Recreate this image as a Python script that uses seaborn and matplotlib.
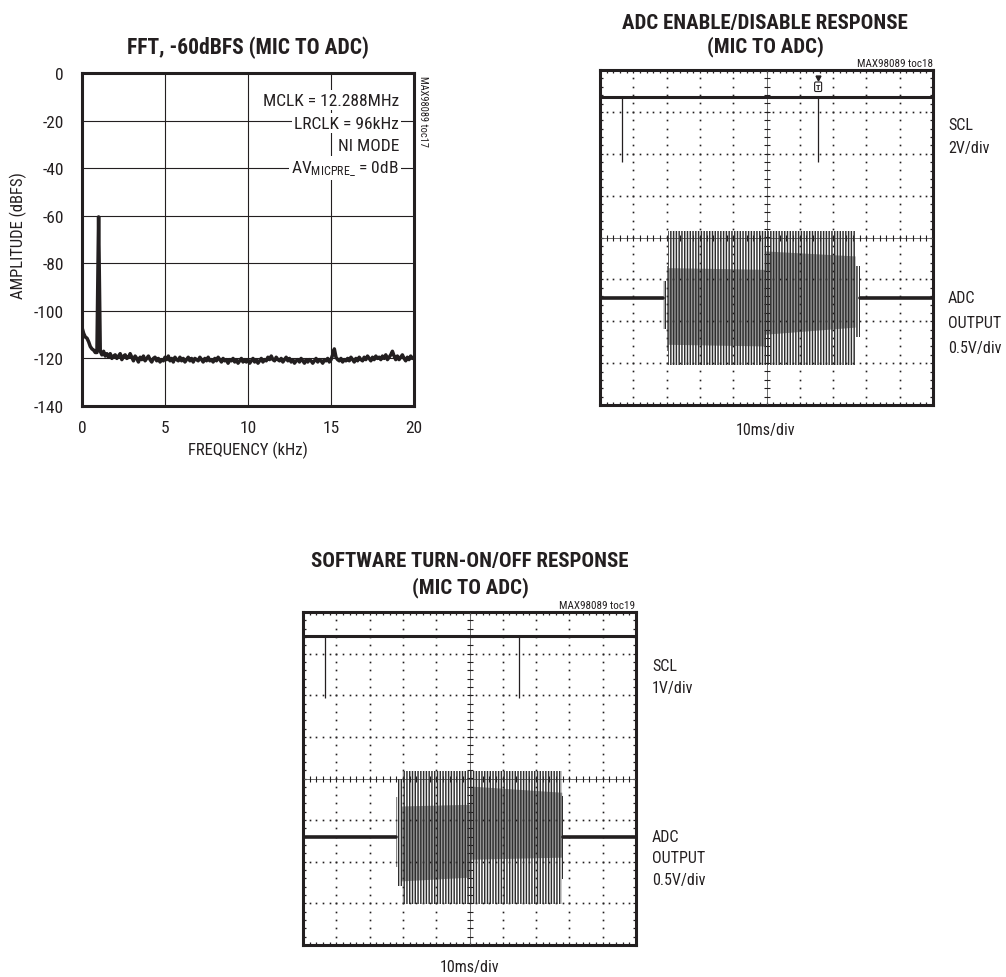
import numpy as np
import matplotlib
matplotlib.use("Agg")
import matplotlib.pyplot as plt
import seaborn as sns
from matplotlib import font_manager
from matplotlib.ticker import MultipleLocator

# ---------------- data ----------------
# FFT, -60dBFS (MIC TO ADC)
fft_freq_khz = np.round(np.arange(0, 20.001, 0.1), 1)
fft_amp_dbfs = [
    -107.0, -109.5, -111.0, -111.5, -113.0, -115.0, -116.0, -116.5, -117.5, -117.5,
    -60.5, -117.0, -118.5, -117.0, -119.0, -118.0, -119.5, -118.0, -120.0, -119.0,
    -118.5, -120.0, -119.0, -118.0, -120.5, -119.0, -118.5, -120.0, -119.5, -118.0,
    -119.5, -121.0, -119.0, -120.0, -121.5, -119.5, -120.5, -119.0, -121.0, -120.0,
    -119.0, -120.5, -121.5, -120.0, -119.5, -121.0, -120.0, -121.5, -120.5, -121.0,
    -119.5, -120.5, -119.0, -121.0, -120.0, -121.5, -119.5, -120.5, -121.0, -119.5,
    -121.0, -120.0, -121.5, -120.5, -119.5, -121.0, -120.0, -121.5, -120.0, -120.5,
    -121.0, -119.5, -120.5, -121.5, -120.0, -121.0, -119.5, -121.0, -120.5, -121.5,
    -120.0, -121.0, -119.5, -120.5, -121.5, -120.0, -121.0, -120.5, -122.0, -120.5,
    -121.0, -120.0, -121.5, -120.5, -122.0, -121.0, -120.0, -121.5, -120.5, -121.5,
    -120.5, -122.0, -121.0, -120.0, -121.5, -120.5, -122.0, -121.0, -120.0, -121.5,
    -120.5, -121.0, -119.5, -120.5, -119.0, -120.5, -121.0, -119.5, -120.5, -121.0,
    -120.0, -121.5, -120.5, -119.5, -121.0, -120.0, -121.5, -120.5, -122.0, -121.0,
    -120.5, -121.5, -120.0, -121.0, -122.0, -120.5, -121.5, -120.5, -121.0, -122.0,
    -121.0, -120.0, -121.5, -120.5, -121.0, -122.0, -120.5, -121.0, -120.0, -121.5,
    -120.5, -118.5, -116.0, -119.5, -120.5, -121.0, -120.0, -121.5, -120.5, -121.0,
    -120.0, -121.0, -119.5, -120.5, -121.5, -120.0, -121.0, -119.5, -120.5, -121.0,
    -119.5, -120.5, -119.0, -120.0, -121.0, -119.5, -120.5, -119.0, -120.0, -119.5,
    -120.5, -119.0, -120.0, -118.5, -120.5, -119.5, -118.5, -117.0, -119.0, -120.5,
    -119.0, -120.5, -119.5, -118.5, -120.0, -121.0, -119.5, -120.5, -119.0, -120.0,
    -119.5,
]
fft_xticks = [0, 5, 10, 15, 20]
fft_yticks = [0, -20, -40, -60, -80, -100, -120, -140]
fft_notes = ["MCLK = 12.288MHz", "LRCLK = 96kHz", "NI MODE",
             r"AV$_{\mathregular{MICPRE\_}}$ = 0dB"]

# ADC ENABLE/DISABLE RESPONSE (divisions; y measured from screen centre)
p2_scl_level = 3.36
p2_glitch_t = [0.66, 6.55]
p2_glitch_low = [1.81, 1.81]
p2_adc_base = -1.45
p2_env_t = [1.89, 1.97, 1.97, 2.04, 2.04, 7.66, 7.66, 7.80]
p2_env_hi = [0.40, 0.40, 0.76, 0.76, 1.60, 1.60, 0.76, 0.76]
p2_env_lo = [-0.74, -0.74, -1.26, -1.26, -1.60, -1.60, -0.93, -0.93]
p2_band_t = [2.04, 4.95, 4.95, 7.66]
p2_band_hi = [0.73, 0.69, 1.13, 1.01]
p2_band_lo = [-1.10, -1.14, -0.86, -0.69]

# SOFTWARE TURN-ON/OFF RESPONSE
p3_scl_level = 3.42
p3_glitch_t = [0.66, 6.49]
p3_glitch_low = [1.93, 1.93]
p3_adc_base = -1.41
p3_env_t = [2.79, 2.86, 2.86, 2.96, 2.96, 7.77, 7.77, 7.82]
p3_env_hi = [0.96, 0.96, 1.39, 1.39, 1.59, 1.59, 1.00, 1.00]
p3_env_lo = [-0.72, -0.72, -1.18, -1.18, -1.61, -1.61, -1.00, -1.00]
p3_band_t = [2.96, 5.0, 5.0, 7.77]
p3_band_hi = [0.75, 0.79, 1.23, 1.08]
p3_band_lo = [-1.05, -0.96, -0.53, -0.48]

# ---------------- style ----------------
sns.set_theme(style="white")
names = {f.name for f in font_manager.fontManager.ttflist}
if "Liberation Sans Narrow" in names:
    FONT = "Liberation Sans Narrow"
elif "Roboto Condensed" in names:
    FONT = "Roboto Condensed"
else:
    FONT = "Liberation Sans"
plt.rcParams["font.family"] = [FONT, "DejaVu Sans"]
plt.rcParams["mathtext.fontset"] = "custom"
plt.rcParams["mathtext.rm"] = FONT
plt.rcParams["mathtext.it"] = FONT
plt.rcParams["mathtext.bf"] = FONT + ":bold"
plt.rcParams["hatch.linewidth"] = 1.05
plt.rcParams["hatch.color"] = "#2e2e2e"

INK = "#231f20"
W, H = 1006, 978
fig = plt.figure(figsize=(W / 100, H / 100), dpi=100)


def fx(x):
    return x / W


def fy(y):
    return 1 - y / H


def add_axes_px(left, top, right, bottom):
    return fig.add_axes([fx(left), fy(bottom), (right - left) / W, (bottom - top) / H])


# ---------------- panel 1: FFT ----------------
ax1 = add_axes_px(82, 74, 414, 407)
sns.lineplot(x=fft_freq_khz, y=fft_amp_dbfs, ax=ax1, color=INK, lw=2.5, zorder=4)
ax1.set_xlim(0, 20)
ax1.set_ylim(-140, 0)
ax1.set_xticks(fft_xticks)
ax1.set_yticks(fft_yticks)
ax1.set_xticklabels([str(v) for v in fft_xticks])
ax1.set_yticklabels([str(v) for v in fft_yticks])
ax1.grid(True, color=INK, lw=0.8)
ax1.tick_params(length=0, labelsize=12.5, colors=INK)
ax1.tick_params(axis="x", pad=10)
ax1.tick_params(axis="y", pad=13)
for s in ax1.spines.values():
    s.set_visible(True)
    s.set_linewidth(2.2)
    s.set_color(INK)
ax1.set_xlabel("FREQUENCY (kHz)", fontsize=12, color=INK, va="center")
ax1.xaxis.set_label_coords(0.5, (407 - 450) / 333)
ax1.set_ylabel("AMPLITUDE (dBFS)", fontsize=12, color=INK, va="center")
ax1.yaxis.set_label_coords((18 - 82) / 332, 1 - (236 - 74) / 333)
note_y = [101, 124, 146, 169]
for txt, yy in zip(fft_notes, note_y):
    ax1.text((399 - 82) / 332, 1 - (yy - 74) / 333, txt, transform=ax1.transAxes,
             ha="right", va="center", fontsize=12.5, color=INK, zorder=5,
             bbox=dict(boxstyle="square,pad=0.12", fc="white", ec="none"))
fig.text(fx(248), fy(48), "FFT, -60dBFS (MIC TO ADC)", ha="center", va="center",
         fontsize=15.5, fontweight="bold", color=INK)
fig.text(fx(423), fy(111), "MAX98089 toc17", rotation=-90, ha="center", va="center",
         fontsize=7.5, color=INK)


# ---------------- scope panels ----------------
def scope(ax, scl_level, glitch_t, glitch_low, base, env_t, env_hi, env_lo,
          band_t, band_hi, band_lo):
    ax.set_xlim(0, 10)
    ax.set_ylim(-4, 4)
    ax.set_facecolor("white")
    # graticule
    gx = np.arange(0, 10.001, 0.2)
    gy = np.arange(-4, 4.001, 0.2)
    for k in range(1, 10):
        if k != 5:
            ax.plot(np.full_like(gy, k), gy, ls="none", marker="s", ms=1.2,
                    mew=0, color=INK, zorder=3)
    for k in range(-3, 4):
        if k != 0:
            ax.plot(gx, np.full_like(gx, k), ls="none", marker="s", ms=1.2,
                    mew=0, color=INK, zorder=3)
    ax.axvline(5, color="#555555", lw=0.6, zorder=3)
    ax.axhline(0, color="#555555", lw=0.6, zorder=3)
    ax.plot(np.full_like(gy, 5), gy, ls="none", marker="_", ms=4.5, mew=0.8,
            color=INK, zorder=3)
    ax.plot(gx, np.zeros_like(gx), ls="none", marker="|", ms=4.5, mew=0.8,
            color=INK, zorder=3)
    ax.xaxis.set_major_locator(MultipleLocator(1))
    ax.xaxis.set_minor_locator(MultipleLocator(0.2))
    ax.yaxis.set_major_locator(MultipleLocator(1))
    ax.yaxis.set_minor_locator(MultipleLocator(0.2))
    ax.tick_params(which="both", direction="in", length=2.5, width=0.9,
                   top=True, right=True, bottom=True, left=True, colors=INK,
                   labelbottom=False, labelleft=False)
    ax.set_xlabel("")
    ax.set_ylabel("")
    for s in ax.spines.values():
        s.set_visible(True)
        s.set_linewidth(2.2)
        s.set_color(INK)
    # SCL trace
    sns.lineplot(x=[0, 10], y=[scl_level, scl_level], ax=ax, color=INK, lw=2.2,
                 zorder=5)
    ax.vlines(glitch_t, glitch_low, scl_level, color=INK, lw=0.9, zorder=5)
    # ADC output baseline
    sns.lineplot(x=[0, env_t[0]], y=[base, base], ax=ax, color=INK, lw=2.6, zorder=5)
    sns.lineplot(x=[env_t[-1], 10], y=[base, base], ax=ax, color=INK, lw=2.6, zorder=5)
    # burst
    bt = np.array(band_t)
    ax.fill_between(bt, base + np.array(band_lo), base + np.array(band_hi),
                    color="#9a9a9a", lw=0, zorder=2)
    et = np.array(env_t)
    ax.fill_between(et, base + np.array(env_lo), base + np.array(env_hi),
                    facecolor="none", edgecolor="#2e2e2e", hatch="||||||", lw=0,
                    zorder=4)


ax2 = add_axes_px(600, 71, 933, 406)
scope(ax2, p2_scl_level, p2_glitch_t, p2_glitch_low, p2_adc_base, p2_env_t,
      p2_env_hi, p2_env_lo, p2_band_t, p2_band_hi, p2_band_lo)
# trigger marker
ax2.plot([p2_glitch_t[1]], [3.82], marker="v", ms=3.5, color=INK, zorder=6)
ax2.text(p2_glitch_t[1], 3.6, "T", ha="center", va="center", fontsize=6,
         fontweight="bold", color=INK, zorder=6,
         bbox=dict(boxstyle="round,pad=0.15", fc="white", ec=INK, lw=0.8))

ax3 = add_axes_px(303, 613, 636, 946)
scope(ax3, p3_scl_level, p3_glitch_t, p3_glitch_low, p3_adc_base, p3_env_t,
      p3_env_hi, p3_env_lo, p3_band_t, p3_band_hi, p3_band_lo)

LAB = 11.5
TT = 15
# panel 2 texts
fig.text(fx(765), fy(24), "ADC ENABLE/DISABLE RESPONSE", ha="center", va="center",
         fontsize=TT, fontweight="bold", color=INK)
fig.text(fx(765), fy(47), "(MIC TO ADC)", ha="center", va="center",
         fontsize=TT, fontweight="bold", color=INK)
fig.text(fx(933), fy(64), "MAX98089 toc18", ha="right", va="center", fontsize=8,
         color=INK)
fig.text(fx(948), fy(126), "SCL", ha="left", va="center", fontsize=LAB, color=INK)
fig.text(fx(948), fy(149), "2V/div", ha="left", va="center", fontsize=LAB, color=INK)
fig.text(fx(948), fy(299), "ADC", ha="left", va="center", fontsize=LAB, color=INK)
fig.text(fx(948), fy(324), "OUTPUT", ha="left", va="center", fontsize=LAB, color=INK)
fig.text(fx(948), fy(349), "0.5V/div", ha="left", va="center", fontsize=LAB, color=INK)
fig.text(fx(766), fy(430), "10ms/div", ha="center", va="center", fontsize=LAB,
         color=INK)

# panel 3 texts
fig.text(fx(470), fy(562), "SOFTWARE TURN-ON/OFF RESPONSE", ha="center",
         va="center", fontsize=TT, fontweight="bold", color=INK)
fig.text(fx(470), fy(588), "(MIC TO ADC)", ha="center", va="center",
         fontsize=TT, fontweight="bold", color=INK)
fig.text(fx(635), fy(606), "MAX98089 toc19", ha="right", va="center", fontsize=8,
         color=INK)
fig.text(fx(652), fy(667), "SCL", ha="left", va="center", fontsize=LAB, color=INK)
fig.text(fx(652), fy(689), "1V/div", ha="left", va="center", fontsize=LAB, color=INK)
fig.text(fx(652), fy(837), "ADC", ha="left", va="center", fontsize=LAB, color=INK)
fig.text(fx(652), fy(859), "OUTPUT", ha="left", va="center", fontsize=LAB, color=INK)
fig.text(fx(652), fy(881), "0.5V/div", ha="left", va="center", fontsize=LAB, color=INK)
fig.text(fx(470), fy(968), "10ms/div", ha="center", va="center", fontsize=LAB,
         color=INK)

fig.savefig("out.png", dpi=100, facecolor="white")
